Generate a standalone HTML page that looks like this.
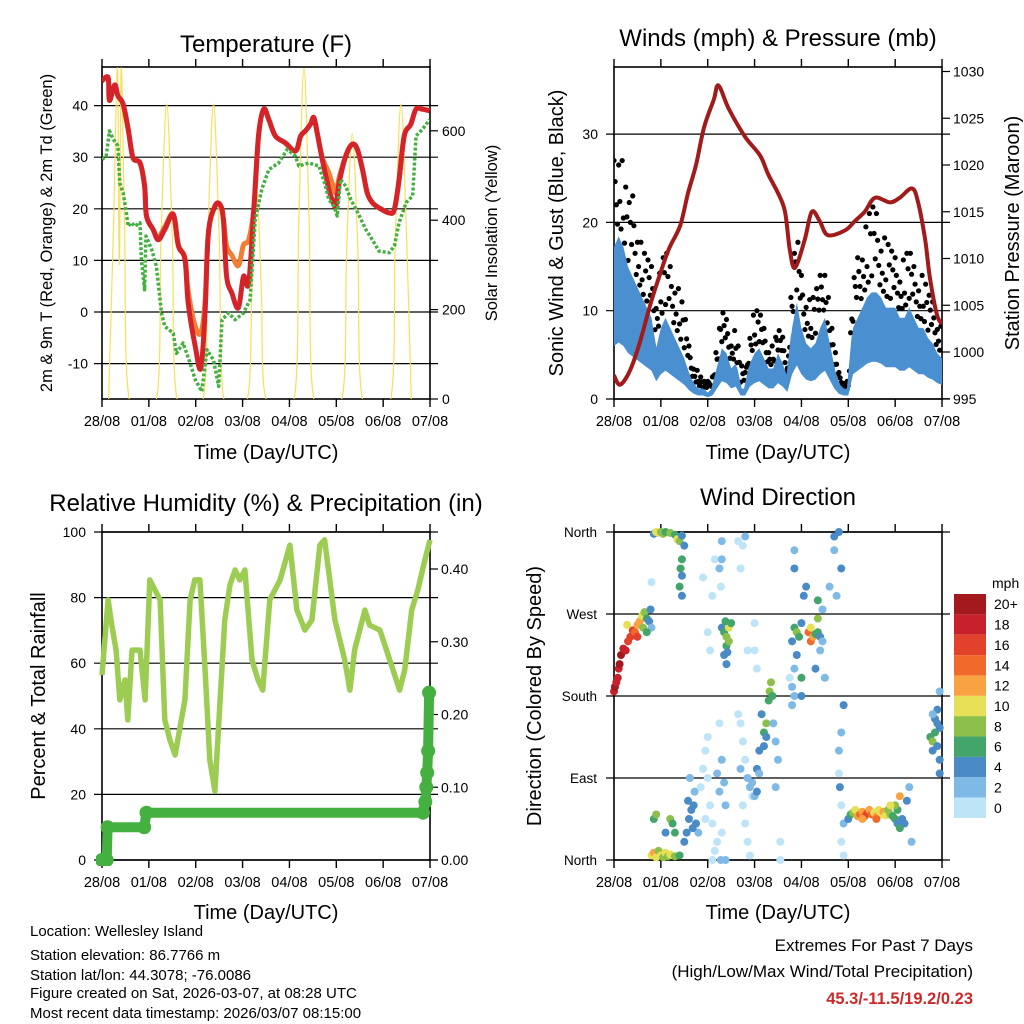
<!DOCTYPE html>
<html><head><meta charset="utf-8"><style>
html,body{margin:0;padding:0;background:#fff}
svg{display:block;font-family:"Liberation Sans",sans-serif}
</style></head><body>
<svg id="c" width="1024" height="1024" viewBox="0 0 1024 1024" xmlns="http://www.w3.org/2000/svg">
<defs>
<clipPath id="c1"><rect x="102" y="67" width="328" height="332"/></clipPath>
<clipPath id="c2"><rect x="614" y="67" width="328" height="332"/></clipPath>
<clipPath id="c3"><rect x="96" y="526" width="340" height="340"/></clipPath>
</defs>
<g font-size="24" text-anchor="middle" fill="#000">
<text x="266" y="52">Temperature (F)</text>
<text x="778" y="46">Winds (mph) &amp; Pressure (mb)</text>
<text x="266" y="511">Relative Humidity (%) &amp; Precipitation (in)</text>
<text x="778" y="505">Wind Direction</text>
</g>
<g font-size="20" text-anchor="middle">
<text x="266" y="459">Time (Day/UTC)</text>
<text x="778" y="459">Time (Day/UTC)</text>
<text x="266" y="919">Time (Day/UTC)</text>
<text x="778" y="919">Time (Day/UTC)</text>
<text transform="translate(52,233) rotate(-90)" font-size="16.5">2m &amp; 9m T (Red, Orange) &amp; 2m Td (Green)</text>
<text transform="translate(497,233) rotate(-90)" font-size="16.5">Solar Insolation (Yellow)</text>
<text transform="translate(563,233) rotate(-90)">Sonic Wind &amp; Gust (Blue, Black)</text>
<text transform="translate(1019,233) rotate(-90)">Station Pressure (Maroon)</text>
<text transform="translate(45,696) rotate(-90)">Percent &amp; Total Rainfall</text>
<text transform="translate(541,696) rotate(-90)">Direction (Colored By Speed)</text>
</g>
<g font-size="15">
<text x="30" y="936">Location: Wellesley Island</text>
<text x="30" y="960">Station elevation: 86.7766 m</text>
<text x="30" y="980">Station lat/lon: 44.3078; -76.0086</text>
<text x="30" y="998">Figure created on Sat, 2026-03-07, at 08:28 UTC</text>
<text x="30" y="1018">Most recent data timestamp: 2026/03/07 08:15:00</text>
</g>
<g font-size="17" text-anchor="end">
<text x="973" y="951">Extremes For Past 7 Days</text>
<text x="973" y="977">(High/Low/Max Wind/Total Precipitation)</text>
<text x="973" y="1004" font-weight="bold" fill="#cc2a2a" font-size="16.5">45.3/-11.5/19.2/0.23</text>
</g>
<g id="layer"></g>
</svg>
<script>
// ---- data ----
const dayLabels = ["28/08","01/08","02/08","03/08","04/08","05/08","06/08","07/08"];
const redDays = [0,0.13,0.16,0.27,0.34,0.45,0.56,0.66,0.81,0.91,0.95,1.09,1.2,1.34,1.52,1.63,1.77,1.84,1.99,2.11,2.2,2.27,2.41,2.52,2.59,2.66,2.77,2.91,3.02,3.13,3.24,3.34,3.45,3.56,3.7,3.91,4.13,4.24,4.34,4.45,4.52,4.59,4.7,4.84,4.91,4.99,5.06,5.2,5.34,5.45,5.56,5.66,5.77,5.91,6.13,6.24,6.34,6.45,6.59,6.7,6.84,6.99];
const redT = [44.8,45.4,41,44,41.9,40.3,35.4,29.9,28.9,24.4,18.6,16,14,16,18.9,12.8,10.2,1.7,-6.7,-10.9,0,15.3,20.5,20.8,17.9,6.9,3.7,0.8,6.9,5.6,19.9,34.1,39.3,37.3,34.1,32.8,31.2,34.1,35.1,36.4,37.7,34.8,29.6,23.8,21.8,20.5,25,30.2,32.5,31.5,27.6,23.1,21.2,20.2,19.2,19.9,25.7,34.1,36.4,39.3,39.3,39];
const orangeT = [44.8,45.4,41,44,41.9,40.3,35.4,29.9,28.9,24.4,18.6,16,14.5,16.5,19,13,10.5,4,-2.8,-4,2,15.3,20.5,20.8,18,12.8,11,9,13,14,20,34.1,39.3,37.3,34.1,32.8,31.2,34.1,35.1,36.4,37.7,34.8,30,27,25,23,26,30.2,32.5,31.5,27.6,23.1,21.2,20.2,19.2,19.9,25.7,34.1,36.4,39.3,39.3,39];
const tdDays = [0,0.09,0.16,0.24,0.34,0.38,0.45,0.52,0.56,0.63,0.7,0.81,0.84,0.91,0.94,1.06,1.16,1.27,1.34,1.52,1.59,1.73,1.88,1.99,2.13,2.24,2.38,2.49,2.56,2.7,2.84,3.02,3.16,3.27,3.41,3.56,3.77,3.95,4.13,4.2,4.41,4.63,4.77,4.84,4.95,5.02,5.09,5.2,5.31,5.46,5.63,5.77,5.91,6.13,6.24,6.34,6.49,6.63,6.7,6.84,6.99];
const tdT = [29.6,30.2,35.1,33.5,32.2,25,23.1,19.2,16.6,17.3,16.6,17.3,10.2,4.3,14.7,12.1,8.9,-0.2,-2.8,-4.1,-8,-6,-9.9,-13.1,-15.4,-7.3,-9.3,-14.4,-1.5,-0.2,-1.5,-0.2,2.4,17.9,23.8,27.6,28.9,31.5,30.2,28.3,28.9,28.3,24.4,21.8,20.5,18.6,25.7,24.4,21.8,19.2,16,14,11.8,11.5,12.8,17.3,21.2,22.5,34.1,35.4,37.3];
const solarDays = [0.14,0.25,0.33,0.37,0.41,0.48,0.58, 1.16,1.26,1.38,1.5,1.6, 2.16,2.26,2.38,2.5,2.6, 3.1,3.2,3.3,3.4,3.5, 4.1,4.2,4.31,4.42,4.52, 5.12,5.22,5.34,5.46,5.56, 6.16,6.26,6.38,6.5,6.6];
const solarW = [0,400,740,300,740,400,0, 0,360,660,360,0, 0,360,660,360,0, 0,250,470,250,0, 0,400,740,400,0, 0,330,594,330,0, 0,360,660,360,0];
const windDays = [0,0.1,0.2,0.3,0.4,0.5,0.6,0.7,0.8,0.9,1,1.1,1.2,1.3,1.4,1.5,1.6,1.7,1.8,1.9,2,2.1,2.2,2.3,2.4,2.5,2.6,2.7,2.8,2.9,3,3.1,3.2,3.3,3.4,3.5,3.6,3.7,3.8,3.9,4,4.1,4.2,4.3,4.4,4.5,4.6,4.7,4.8,4.9,5,5.1,5.2,5.3,5.4,5.5,5.6,5.7,5.8,5.9,6,6.1,6.2,6.3,6.4,6.5,6.6,6.7,6.8,6.9,7];
const windAvg = [15,16,15,13,12,11,10,9,8,5,7,8,7,6,5,4,2.5,1.5,1,1,0.5,1,3,5,4.5,3,3.5,1,1,3.5,4.5,5,4,3,3,4.5,3.5,2,7,9.5,7,5.5,5,5.5,7,8,5.5,3,1.5,1,1,7,8,9,10,10.5,10.5,10,9,9,9,8,8,9,8,7,7,6,5.5,4.5,4];
const windGust = [27,30,26,22,23,20,17,16,15,12,15,17,15,14,12,10,6,4,3,2,2,3,6,10,9,7,8,4,3,8,10,10,8,6,6,8,7,4,14,19,14,12,11,12,14,16,10,6,3,2,2,13,16,18,20,22,21,19,18,17,16,15,16,17,15,14,14,12,11,9,8];
const presDays = [0,0.13,0.34,0.55,0.77,0.96,1.17,1.41,1.58,1.75,1.92,2.13,2.23,2.45,2.8,3.12,3.29,3.5,3.65,3.75,3.86,4.07,4.22,4.39,4.56,4.93,5.14,5.35,5.57,5.89,6.1,6.36,6.49,6.64,6.74,6.89,7.0];
const presMb = [997.5,996.5,998,1001,1005,1008,1011,1013.5,1017,1020,1024,1027,1028.5,1026,1023,1021,1019,1017,1015,1011,1009,1012,1015,1014,1012.5,1013,1014,1015,1016.5,1016,1016.5,1017.5,1016,1012,1008,1004,1003];
const rhDays = [0,0.13,0.21,0.3,0.38,0.49,0.55,0.64,0.81,0.92,1.02,1.13,1.24,1.34,1.45,1.56,1.77,1.88,1.98,2.09,2.2,2.3,2.41,2.52,2.62,2.73,2.84,2.94,3.05,3.2,3.33,3.43,3.58,3.8,4.01,4.16,4.33,4.48,4.65,4.75,4.97,5.18,5.29,5.39,5.61,5.71,5.93,6.14,6.35,6.46,6.61,6.74,6.89,7];
const rhPct = [56.4,79.3,71.6,64,48.8,54.9,42.7,64,64,48.8,85.4,82.3,79.3,42.7,36.6,32,48.8,79.3,85.4,85.4,57.9,30.5,21,48.8,73.2,83.8,88.4,85.4,88.4,61,54.9,51.8,79.3,85.4,96,76.2,70.1,73.2,96,97.6,73.2,61,51.8,64,76.2,71.6,70.1,61,51.8,57.9,76.2,82.3,91.5,97.6];
const rainDays = [0,0.1,0.12,0.9,0.95,6.85,6.9,6.92,6.94,6.96,6.98];
const rainIn = [0,0,0.045,0.045,0.065,0.065,0.08,0.1,0.12,0.15,0.23];
const dirDays = [0,0.02,0.05,0.08,0.1,0.12,0.15,0.2,0.25,0.3,0.35,0.4,0.45,0.5,0.55,0.6,0.65,0.7,0.75,0.8,0.78,0.28,0.5,0.62,0.7,
0.85,0.9,0.95,1.0,1.05,1.1,1.2,1.3,1.35,1.4,1.45,1.5,1.45,1.42,1.45,1.4,1.45,0.8,
0.8,0.85,0.9,0.95,1.0,1.05,1.1,1.15,1.2,1.3,1.4,0.85,0.9,1.2,1.25,1.1,1.3,
1.5,1.55,1.6,1.65,1.7,1.72,1.62,1.75,1.8,1.58,1.68,
1.85,1.9,1.95,2.0,2.05,2.1,2.15,2.2,2.25,2.3,2.35,2.38,2.0,2.05,2.1,2.15,1.9,2.3,2.3,2.25,2.28,2.1,2.28,2.38,2.0,2.25,2.2,1.95,2.3,
2.3,2.35,2.4,2.45,2.4,2.35,2.4,2.5,2.45,2.38,2.42,
2.65,2.7,2.75,2.8,2.85,2.9,2.95,2.7,2.75,2.8,2.85,2.9,2.65,2.75,2.8,2.7,2.85,3.0,3.05,3.0,2.95,3.0,3.05,3.1,3.15,3.2,3.25,3.3,3.32,3.35,3.38,3.2,3.25,3.1,3.05,3.4,3.45,3.5,3.45,3.55,3.55,
3.8,3.85,3.9,3.95,4.0,3.9,3.85,3.8,3.75,3.85,3.8,4.0,4.0,4.05,4.1,4.15,4.2,4.25,4.2,4.3,4.35,4.35,4.4,4.45,4.4,4.5,4.35,4.45,4.3,3.85,3.85,4.6,4.75,4.7,4.8,4.7,4.85,
4.9,4.85,4.8,4.82,4.85,4.9,4.85,4.9,4.8,
5.0,5.05,5.1,5.15,5.2,5.25,5.3,5.35,5.4,5.45,5.5,5.55,5.6,5.65,5.7,5.75,5.8,5.85,5.9,5.95,6.0,6.05,6.1,6.05,6.1,6.0,6.15,5.3,5.6,5.9,6.2,6.25,6.3,6.35,
6.75,6.8,6.85,6.9,6.95,6.8,6.9,6.95,6.85,6.9,6.8,6.95,6.95];
const dirDeg = [185,190,195,200,210,215,225,232,230,240,245,252,250,258,262,268,272,265,262,255,275,258,245,255,250,
358,360,359,360,358,360,359,357,352,350,356,345,330,320,312,300,290,305,
5,8,3,10,5,3,8,4,6,4,5,45,50,45,40,30,30,
20,30,45,55,60,75,90,40,30,65,35,
80,100,120,90,60,40,10,95,75,110,85,60,250,230,290,330,310,350,330,320,300,0,0,0,135,150,20,45,30,
255,250,245,255,235,225,215,260,240,262,228,
160,150,130,110,90,80,70,100,60,40,20,5,350,345,355,320,230,230,210,260,85,70,100,120,160,140,150,175,185,195,180,125,135,95,75,150,130,110,80,20,0,
240,255,250,245,260,225,210,190,200,180,170,200,180,290,300,250,240,245,255,248,250,265,245,240,230,200,285,275,210,340,320,300,290,340,360,355,320,
170,140,120,80,60,40,20,5,95,
45,50,52,55,48,50,53,48,51,55,50,52,48,55,50,53,49,55,50,48,45,40,35,55,70,60,45,45,45,60,40,65,80,20,
135,130,140,150,145,120,125,110,155,165,160,185,95];
const dirSpd = [19,20,18,19,18,20,20,18,19,16,17,16,14,13,12,10,8,6,4,2,4,10,16,9,7,
4,10,10,8,9,7,8,6,10,8,4,4,6,6,4,6,4,1,
10,12,10,8,10,9,10,8,10,8,6,6,8,8,6,4,6,
4,4,5,4,4,3,3,4,3,5,4,
1,1,0,1,0,1,0,2,3,2,3,2,0,0,1,1,0,2,2,2,1,1,2,3,1,1,0,1,1,
4,6,8,10,6,5,4,7,8,6,5,
0,1,0,1,2,3,1,2,1,0,1,0,1,1,2,1,0,1,0,1,3,2,4,4,5,6,8,6,8,9,6,4,5,3,4,3,2,2,3,1,0,
4,6,8,7,4,4,2,3,1,3,2,6,5,5,4,14,15,12,10,7,6,8,4,3,2,2,6,3,5,2,4,2,2,2,4,4,4,
4,3,2,4,1,3,1,0,1,
4,6,8,10,12,14,13,14,16,12,14,10,12,11,10,12,10,9,8,7,6,5,6,7,12,8,4,12,14,10,5,4,3,2,
6,8,6,4,5,4,5,4,5,4,3,2,4];
const speedBinLabels = ["20+","18","16","14","12","10","8","6","4","2","0"];
const speedBinColors = ["#a21a1e","#c9212b","#e2412c","#f06a2c","#f9a241","#e7df55","#8cc04a","#44a56a","#4a8bc6","#7fb9e5","#bde4f7"];

// ---- helpers ----
const NS = "http://www.w3.org/2000/svg";
const root = document.getElementById("layer");
function el(tag, attrs, parent){const e=document.createElementNS(NS,tag);for(const k in attrs)e.setAttribute(k,attrs[k]);(parent||root).appendChild(e);return e;}
function txt(s, attrs, parent){const e=el("text",attrs,parent);e.textContent=s;return e;}
const DX = 46.86;
function panel(x0,y0){return {x0:x0,y0:y0,w:328,h:332,x:d=>x0+d*DX};}
const P1=panel(102,67), P2=panel(614,67), P3=panel(102,532), P4=panel(614,532);
P3.h=328; P4.h=328;
const yTemp=t=>312-t*5.16, ySolar=w=>399-w*0.447;
const ySpd=v=>399-v*8.83, yPres=p=>352-(p-1000)*9.35;
const yRH=r=>860-r*3.28, yRain=r=>860-r*727.5;
const yDir=d=>860-d*328/360;
function pts(days,vals,fx,fy){return days.map((d,i)=>fx(d).toFixed(1)+","+fy(vals[i]).toFixed(1)).join(" ");}
function smooth(days,vals,fx,fy){
  const P=days.map((d,i)=>[fx(d),fy(vals[i])]);
  let s="M"+P[0][0].toFixed(1)+","+P[0][1].toFixed(1);
  for(let i=0;i<P.length-1;i++){
    const p0=P[Math.max(0,i-1)],p1=P[i],p2=P[i+1],p3=P[Math.min(P.length-1,i+2)];
    const c1=[p1[0]+(p2[0]-p0[0])/6,p1[1]+(p2[1]-p0[1])/6];
    const c2=[p2[0]-(p3[0]-p1[0])/6,p2[1]-(p3[1]-p1[1])/6];
    s+=" C"+c1[0].toFixed(1)+","+c1[1].toFixed(1)+" "+c2[0].toFixed(1)+","+c2[1].toFixed(1)+" "+p2[0].toFixed(1)+","+p2[1].toFixed(1);
  }
  return s;
}

function frame(P,name){
  const g=el("g",{});
  
  
  el("rect",{x:P.x0,y:P.y0,width:P.w,height:P.h,fill:"none",stroke:"#000","stroke-width":1.6},g);
  for(let i=0;i<dayLabels.length;i++){
    const x=P.x(i);
    el("line",{x1:x,y1:P.y0+P.h,x2:x,y2:P.y0+P.h+8,stroke:"#000","stroke-width":1.4},g);
    el("line",{x1:x,y1:P.y0,x2:x,y2:P.y0-8,stroke:"#000","stroke-width":1.4},g);
    const t=txt(dayLabels[i],{x:x,y:P.y0+P.h+27,"font-size":14.5,"text-anchor":"middle"},g);
    
    
  }
  return g;
}
function hgrid(P,y,g){el("line",{x1:P.x0-8,y1:y,x2:P.x0+P.w+8,y2:y,stroke:"#000","stroke-width":1.2},g);}

// ---- Panel 1: temperature ----
{
  const g=frame(P1,'temperature');
  [-10,0,10,20,30,40].forEach(v=>{hgrid(P1,yTemp(v),g);
    const t=txt(String(v),{x:88,y:yTemp(v)+5,"font-size":14,"text-anchor":"end"},g);
    
    });
  [0,200,400,600].forEach(v=>{el("line",{x1:430,y1:ySolar(v),x2:438,y2:ySolar(v),stroke:"#000","stroke-width":1.2},g);
    const t=txt(String(v),{x:442,y:ySolar(v)+5,"font-size":14},g);
    
    });
  const c=el("g",{"clip-path":"url(#c1)"});
  const s=el("path",{d:smooth(solarDays,solarW,P1.x,ySolar),fill:"none",stroke:"#f7df5a","stroke-width":1.2},c);
  
  
  const o=el("path",{d:smooth(redDays,orangeT,P1.x,yTemp),fill:"none",stroke:"#f17f33","stroke-width":5,"stroke-linejoin":"round"},c);
  
  
  const r=el("path",{d:smooth(redDays,redT,P1.x,yTemp),fill:"none",stroke:"#d4242a","stroke-width":5,"stroke-linejoin":"round"},c);
  
  
  const d=el("polyline",{points:pts(tdDays,tdT,P1.x,yTemp),fill:"none",stroke:"#44b040","stroke-width":3.5,"stroke-dasharray":"3 2","stroke-linejoin":"round"},c);
  
  
}

// ---- Panel 2: winds & pressure ----
{
  const g=frame(P2,'winds');
  [0,10,20,30].forEach(v=>{hgrid(P2,ySpd(v),g);
    const t=txt(String(v),{x:598,y:ySpd(v)+5,"font-size":14,"text-anchor":"end"},g);
    
    });
  [995,1000,1005,1010,1015,1020,1025,1030].forEach(v=>{el("line",{x1:942,y1:yPres(v),x2:950,y2:yPres(v),stroke:"#000","stroke-width":1.2},g);
    const t=txt(String(v),{x:953,y:yPres(v)+5,"font-size":14},g);
    
    });
  const c=el("g",{"clip-path":"url(#c2)"});
  // gust cloud between sustained and gust
  for(let i=0;i<windDays.length-1;i++){
    for(let k=0;k<4;k++){
      const f=k/4, d=windDays[i]+0.1*f;
      const gv=windGust[i]+(windGust[i+1]-windGust[i])*f;
      const av=windAvg[i]+(windAvg[i+1]-windAvg[i])*f;
      const lv=[gv, av+(gv-av)*0.75, av+(gv-av)*0.5, av+(gv-av)*0.3][(i+k)%4];
      const p=el("circle",{cx:P2.x(d),cy:ySpd(lv),r:2.6,fill:"#000"},c);
      
      
    }
  }
  const up=windDays.map((d,i)=>P2.x(d).toFixed(1)+","+ySpd(windAvg[i]*1.15).toFixed(1));
  const lo=windDays.slice().reverse().map((d,j)=>{const i=windDays.length-1-j;return P2.x(d).toFixed(1)+","+ySpd(windAvg[i]*0.4).toFixed(1);});
  const band=el("polygon",{points:up.concat(lo).join(" "),fill:"#4a90d0"},c);
  
  
  const w=el("polyline",{points:pts(windDays,windAvg,P2.x,ySpd),fill:"none",stroke:"#4a90d0","stroke-width":3,"stroke-linejoin":"round"},c);
  
  
  const pr=el("path",{d:smooth(presDays,presMb,P2.x,yPres),fill:"none",stroke:"#a11b1b","stroke-width":4,"stroke-linejoin":"round"},c);
  
  
}

// ---- Panel 3: RH & precip ----
{
  const g=frame(P3,'humidity');
  [0,20,40,60,80,100].forEach(v=>{hgrid(P3,yRH(v),g);
    const t=txt(String(v),{x:86,y:yRH(v)+5,"font-size":14,"text-anchor":"end"},g);
    
    });
  [0,0.1,0.2,0.3,0.4].forEach(v=>{el("line",{x1:430,y1:yRain(v),x2:438,y2:yRain(v),stroke:"#000","stroke-width":1.2},g);
    const t=txt(v.toFixed(2),{x:441,y:yRain(v)+5,"font-size":14},g);
    
    });
  const c=el("g",{"clip-path":"url(#c3)"});
  const rh=el("polyline",{points:pts(rhDays,rhPct,P3.x,yRH),fill:"none",stroke:"#9ccd52","stroke-width":5.5,"stroke-linejoin":"round"},c);
  
  
  const rl=el("polyline",{points:pts(rainDays,rainIn,P3.x,yRain),fill:"none",stroke:"#44b040","stroke-width":10,"stroke-linejoin":"round","stroke-linecap":"round"},c);
  
  
  rainDays.forEach((d,i)=>{
    const p=el("circle",{cx:P3.x(d),cy:yRain(rainIn[i]),r:7,fill:"#44b040"},c);
    
    
  });
}

// ---- Panel 4: wind direction ----
{
  const g=frame(P4,'wind-direction');
  const dirNames=["North","East","South","West","North"];
  [0,90,180,270,360].forEach((v,i)=>{hgrid(P4,yDir(v),g);
    const t=txt(dirNames[i],{x:597,y:yDir(v)+5,"font-size":13.5,"text-anchor":"end"},g);
    
    });
  const c=el("g",{});
  dirDays.forEach((d,i)=>{
    const s=dirSpd[i];
    const bin=s>=20?0:10-Math.floor(s/2);
    const p=el("circle",{cx:P4.x(d),cy:yDir(dirDeg[i]),r:4,fill:speedBinColors[Math.max(0,bin)]},c);
    
    
  });
  const cb=el("g",{});
  
  
  txt("mph",{x:992,y:588,"font-size":14},cb);
  const bh=224/speedBinLabels.length;
  speedBinLabels.forEach((lab,i)=>{
    const r=el("rect",{x:954,y:594+i*bh,width:32,height:bh,fill:speedBinColors[i]},cb);
    
    
    const t=txt(lab,{x:994,y:594+i*bh+bh/2+5,"font-size":14},cb);
    
    
  });
}
</script>
</body></html>
